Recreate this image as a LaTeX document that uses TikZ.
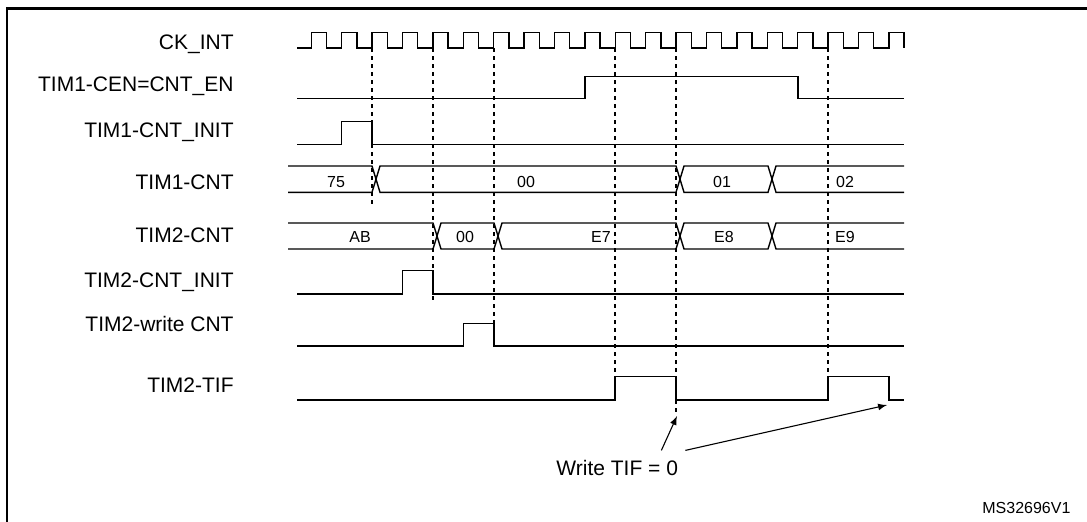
\documentclass[tikz,border=0pt]{standalone}
\usepackage{fontspec}
\setmainfont{Liberation Sans}
\usetikzlibrary{arrows}

\begin{document}
\begin{tikzpicture}[x=0.5pt,y=-0.5pt,
  wave/.style={line width=0.7pt},
  guide/.style={line width=0.6pt, dash pattern=on 2.2pt off 1.8pt},
  sig/.style={anchor=base east, inner sep=0pt, font=\fontsize{10.5}{12}\selectfont},
  val/.style={anchor=base, inner sep=0pt, font=\fontsize{8}{9}\selectfont},
  note/.style={anchor=base west, inner sep=0pt, font=\fontsize{10.5}{12}\selectfont}]
\useasboundingbox (0,0) rectangle (1087,521);
\clip (0,0) rectangle (1087,521);
\draw[line width=1.2pt] (7,560) -- (7,8.3) -- (1120,8.3); % frame runs off the page

% signal names
\node[sig] (ckint) at (234,49) {CK\_INT};
\node[sig] (cen) at (234,91.7) {TIM1-CEN=CNT\_EN};
\node[sig] (init1) at (234,137.3) {TIM1-CNT\_INIT};
\node[sig] (cnt1) at (234,189) {TIM1-CNT};
\node[sig] (cnt2) at (234,242.3) {TIM2-CNT};
\node[sig] (init2) at (234,287.3) {TIM2-CNT\_INIT};
\node[sig] (wcnt) at (234,331.7) {TIM2-write CNT};
\node[sig] (tif) at (234,392.3) {TIM2-TIF};

% clock
\draw[wave] (297,48) \foreach \k in {0,...,19} {
  -- ({311.2+30.4*\k},48) -- ++(0,-15.5) -- ++(15.2,0) -- ++(0,15.5)};

% sampling edges
\foreach \x/\y in {372/205, 433/300, 494/323, 615/377, 676/412, 828/377}
  \draw[guide] (\x,48) -- (\x,\y);

% control signals
\draw[wave] (297,98.3) -| (585,76.7) -| (798,98.3) -- (904,98.3);
\draw[wave] (297,144.3) -| (341.6,121.7) -| (372,144.3) -- (904,144.3);
\draw[wave] (297,294) -| (402.6,270.7) -| (433,294) -- (904,294);
\draw[wave] (297,346) -| (463.6,323.3) -| (494,346) -- (904,346);
\draw[wave] (297,400) -| (615,376.7) -| (676,400) -| (828,376.7) -| (889,400) -- (904,400);

% counters
\draw[wave] (288,166) -- (372,166) -- (380,192.3) -- (676,192.3) -- (684,166) -- (768,166) -- (776,192.3) -- (904,192.3);
\draw[wave] (288,192.3) -- (372,192.3) -- (380,166) -- (676,166) -- (684,192.3) -- (768,192.3) -- (776,166) -- (904,166);
\draw[wave] (288,223) -- (433,223) -- (441,249) -- (494,249) -- (502,223) -- (676,223) -- (684,249) -- (768,249) -- (776,223) -- (904,223);
\draw[wave] (288,249) -- (433,249) -- (441,223) -- (494,223) -- (502,249) -- (676,249) -- (684,223) -- (768,223) -- (776,249) -- (904,249);

\node[val] (v75) at (336,187) {75};
\node[val] (v00a) at (526,187) {00};
\node[val] (v01) at (722,187) {01};
\node[val] (v02) at (845,187) {02};
\node[val] (vab) at (360,242) {AB};
\node[val] (v00b) at (465,242) {00};
\node[val] (ve7) at (601,242) {E7};
\node[val] (ve8) at (724,242) {E8};
\node[val] (ve9) at (845,242) {E9};

% flag clear
\node[note] (wtif) at (556,475) {Write TIF = 0};
\coordinate (clr1) at (677,416);
\coordinate (clr2) at (887,405);
\draw[-latex, line width=0.55pt] ([xshift=-8.5pt,yshift=4.5pt]wtif.north east) -- (clr1);
\draw[-latex, line width=0.55pt] ([xshift=3.5pt,yshift=4.5pt]wtif.north east) -- (clr2);

\node[anchor=base west, inner sep=0pt, font=\fontsize{8}{9}\selectfont] (ref) at (982,513) {MS32696V1};
\end{tikzpicture}
\end{document}
